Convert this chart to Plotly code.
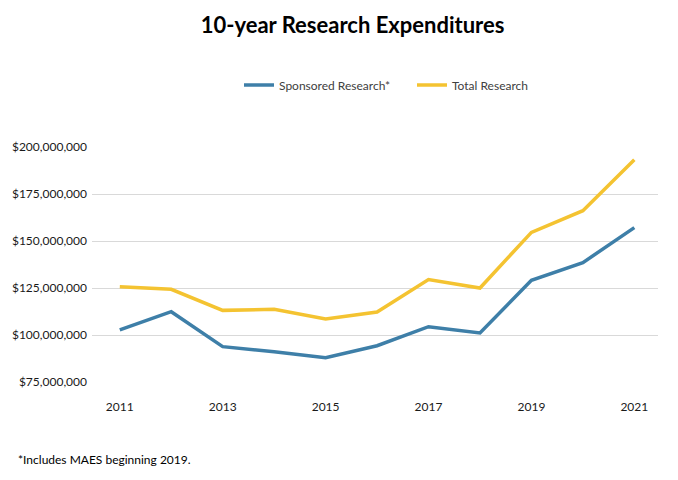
import plotly.graph_objects as go

years = list(range(2011, 2022))
sponsored = [102.7e6, 112.4e6, 93.8e6, 91.1e6, 87.9e6, 94.3e6, 104.4e6, 101.1e6, 129.1e6, 138.5e6, 157.1e6]
total = [125.6e6, 124.3e6, 113.1e6, 113.7e6, 108.5e6, 112.2e6, 129.5e6, 125.0e6, 154.6e6, 166.1e6, 193.2e6]
xtick_vals = [2011, 2013, 2015, 2017, 2019, 2021]
ytick_vals = [75e6, 100e6, 125e6, 150e6, 175e6, 200e6]
ytick_text = ["$75,000,000", "$100,000,000", "$125,000,000", "$150,000,000", "$175,000,000", "$200,000,000"]

FONT = "Lato"
fig = go.Figure()
fig.add_trace(go.Scatter(x=years, y=sponsored, mode="lines", name="Sponsored Research*",
                         line=dict(color="#3E7FA8", width=3.5)))
fig.add_trace(go.Scatter(x=years, y=total, mode="lines", name="Total Research",
                         line=dict(color="#F4C331", width=3.5)))

fig.update_layout(
    width=678, height=480,
    paper_bgcolor="white", plot_bgcolor="white",
    margin=dict(l=92, r=20, t=147, b=98),
    font=dict(family=FONT, size=12, color="#404040"),
    title=dict(text="<b>10-year Research Expenditures</b>", x=0.52, xanchor="center",
               y=0.947, yanchor="middle", font=dict(family=FONT, size=22, color="black")),
    legend=dict(orientation="h", x=(247 - 92 - 8) / 566, xanchor="left", y=1 - 85 / 480,
                yref="container", yanchor="middle",
                font=dict(family=FONT, size=12, color="#404040"), itemwidth=30, entrywidth=128),
    showlegend=True,
)
fig.add_annotation(text="*Includes MAES beginning 2019.", xref="paper", yref="paper",
                   x=-(92 - 16) / 566, y=-77 / 235, xanchor="left", yanchor="middle", showarrow=False,
                   font=dict(family=FONT, size=12, color="black"))
fig.update_xaxes(range=[2010.46, 2021.46], tickvals=xtick_vals, showgrid=False, showline=False,
                 zeroline=False, ticks="", ticklabelstandoff=16,
                 tickfont=dict(family=FONT, size=12, color="#1a1a1a"))
fig.update_yaxes(range=[75e6, 200e6], tickvals=ytick_vals, ticktext=ytick_text, showgrid=True,
                 gridcolor="#D9D9D9", gridwidth=1, zeroline=False, showline=False, ticks="",
                 ticklabelstandoff=4, tickfont=dict(family=FONT, size=12, color="#1a1a1a"))
fig.write_html("out.html")
